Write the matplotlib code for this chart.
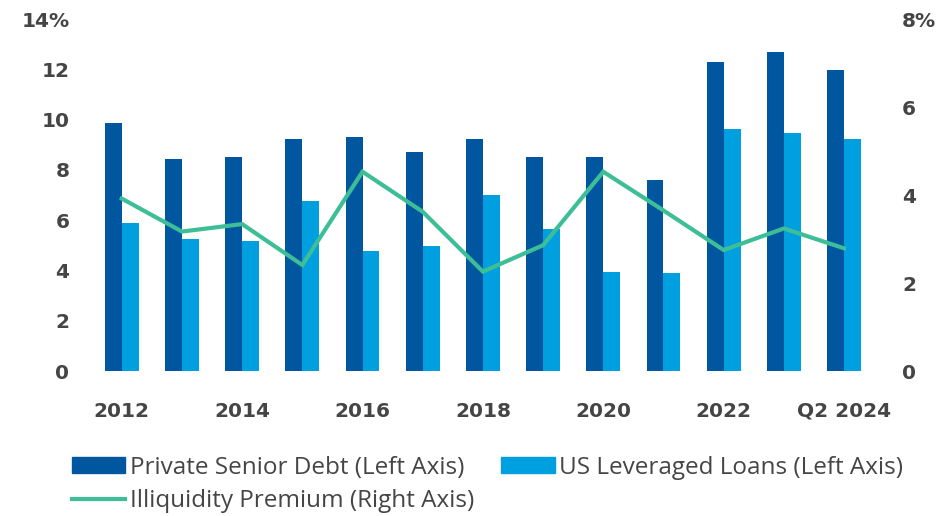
import matplotlib
matplotlib.use("Agg")
import matplotlib.pyplot as plt
import numpy as np
from matplotlib.lines import Line2D
from matplotlib.patches import Patch

# data
categories = ["2012", "2013", "2014", "2015", "2016", "2017", "2018",
              "2019", "2020", "2021", "2022", "2023", "Q2 2024"]
private_senior_debt = [9.85, 8.42, 8.5, 9.22, 9.3, 8.72, 9.22,
                       8.5, 8.5, 7.6, 12.3, 12.7, 11.97]
us_leveraged_loans = [5.87, 5.24, 5.16, 6.75, 4.76, 4.98, 6.99,
                      5.64, 3.95, 3.89, 9.61, 9.45, 9.22]
illiquidity_premium = [3.92, 3.17, 3.34, 2.41, 4.53, 3.62, 2.26,
                       2.86, 4.53, 3.65, 2.75, 3.24, 2.79]
left_ticks = [0, 2, 4, 6, 8, 10, 12, 14]
right_ticks = [0, 2, 4, 6, 8]

DARK = "#0057A0"
LIGHT = "#00A0E0"
GREEN = "#3DBE97"
TEXT = "#454545"

plt.rcParams["font.family"] = ["DejaVu Sans"]

fig = plt.figure(figsize=(9.45, 5.16), dpi=100)
ax = fig.add_axes([0.097, 0.281, 0.828, 0.682])
ax2 = ax.twinx()

x = np.arange(len(categories))
w = 0.28
ax.bar(x - w / 2, private_senior_debt, width=w, color=DARK)
ax.bar(x + w / 2, us_leveraged_loans, width=w, color=LIGHT)
ax2.plot(x, illiquidity_premium, color=GREEN, lw=3, solid_joinstyle="miter")

ax.set_xlim(-0.5, len(categories) - 0.5)
ax.set_ylim(0, 14)
ax2.set_ylim(0, 8)

ax.set_yticks(left_ticks)
ax.set_yticklabels([f"{t}%" if t == left_ticks[-1] else str(t) for t in left_ticks])
ax2.set_yticks(right_ticks)
ax2.set_yticklabels([f"{t}%" if t == right_ticks[-1] else str(t) for t in right_ticks])

shown = list(range(0, len(categories), 2))
ax.set_xticks(shown)
ax.set_xticklabels([categories[i] for i in shown])

for a in (ax, ax2):
    for s in a.spines.values():
        s.set_visible(False)
    a.tick_params(length=0, labelsize=14.5, labelcolor=TEXT)
    for lab in a.get_xticklabels() + a.get_yticklabels():
        lab.set_fontweight("bold")
ax.tick_params(axis="x", pad=22)
ax.tick_params(axis="y", pad=16)
ax2.tick_params(axis="y", pad=20)

handles = [
    Patch(color=DARK, label="Private Senior Debt (Left Axis)"),
    Line2D([], [], color=GREEN, lw=3, label="Illiquidity Premium (Right Axis)"),
    Patch(color=LIGHT, label="US Leveraged Loans (Left Axis)"),
]
fig.legend(handles=handles, ncol=2, loc="upper left", bbox_to_anchor=(0.076, 0.117),
           frameon=False, prop={"family": "Open Sans", "size": 17.5},
           labelcolor=TEXT, handlelength=2.2, handleheight=0.65,
           handletextpad=0.2, columnspacing=1.1, labelspacing=0.4,
           borderpad=0, borderaxespad=0)

fig.savefig("out.png", dpi=100)
